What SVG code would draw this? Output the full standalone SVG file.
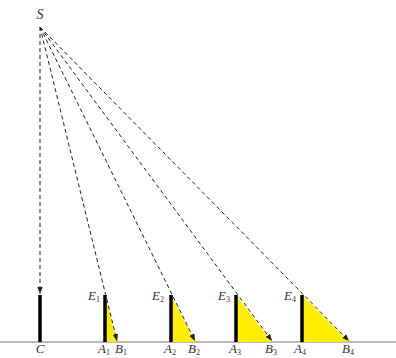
<svg xmlns="http://www.w3.org/2000/svg" width="396" height="358" viewBox="0 0 396 358">
<style>
.lbl{font-family:"Liberation Serif",serif;font-style:italic;font-size:13px;fill:#333}
.sub{font-size:8px;font-style:normal}
.ray{stroke:#222;stroke-width:1;stroke-dasharray:4,3;fill:none}
.pole{stroke:#000;stroke-width:3.5}
.tri{fill:#ffee00;stroke:none}
</style>
<defs>
<marker id="ah" viewBox="0 0 10 10" refX="10" refY="5" markerWidth="7" markerHeight="7" orient="auto" markerUnits="userSpaceOnUse">
<path d="M0,1 L10,5 L0,9 Z" fill="#222"/>
</marker>
</defs>
<line x1="0" y1="342" x2="396" y2="342" stroke="#777" stroke-width="1.2"/>
<g id="S"><text class="lbl" x="40" y="19" text-anchor="middle" style="font-size:14px">S</text></g>
<g id="C">
<line class="pole" x1="40" y1="295" x2="40" y2="342"/>
<text class="lbl" x="40" y="353" text-anchor="middle">C</text>
</g>
<g id="P1">
<polygon class="tri" points="105,295 105,342 117,342"/>
<line class="pole" x1="105" y1="295" x2="105" y2="342"/>
<text class="lbl" x="88" y="300">E<tspan class="sub" dy="2">1</tspan></text>
<text class="lbl" x="98" y="353">A<tspan class="sub" dy="2">1</tspan></text>
<text class="lbl" x="115" y="353">B<tspan class="sub" dy="2">1</tspan></text>
</g>
<g id="P2">
<polygon class="tri" points="171,295 171,342 195,342"/>
<line class="pole" x1="171" y1="295" x2="171" y2="342"/>
<text class="lbl" x="152" y="300">E<tspan class="sub" dy="2">2</tspan></text>
<text class="lbl" x="164" y="353">A<tspan class="sub" dy="2">2</tspan></text>
<text class="lbl" x="188" y="353">B<tspan class="sub" dy="2">2</tspan></text>
</g>
<g id="P3">
<polygon class="tri" points="236,295 236,342 272,342"/>
<line class="pole" x1="236" y1="295" x2="236" y2="342"/>
<text class="lbl" x="218" y="300">E<tspan class="sub" dy="2">3</tspan></text>
<text class="lbl" x="229" y="353">A<tspan class="sub" dy="2">3</tspan></text>
<text class="lbl" x="265" y="353">B<tspan class="sub" dy="2">3</tspan></text>
</g>
<g id="P4">
<polygon class="tri" points="302,295 302,342 349,342"/>
<line class="pole" x1="302" y1="295" x2="302" y2="342"/>
<text class="lbl" x="284" y="300">E<tspan class="sub" dy="2">4</tspan></text>
<text class="lbl" x="294" y="353">A<tspan class="sub" dy="2">4</tspan></text>
<text class="lbl" x="342" y="353">B<tspan class="sub" dy="2">4</tspan></text>
</g>
<g id="connectors">
<line class="ray" x1="40" y1="27" x2="40" y2="294" marker-end="url(#ah)"/>
<line class="ray" x1="40" y1="27" x2="117" y2="341" marker-end="url(#ah)"/>
<line class="ray" x1="40" y1="27" x2="195" y2="341" marker-end="url(#ah)"/>
<line class="ray" x1="40" y1="27" x2="272" y2="341" marker-end="url(#ah)"/>
<line class="ray" x1="40" y1="27" x2="349" y2="341" marker-end="url(#ah)"/>
</g>
</svg>
